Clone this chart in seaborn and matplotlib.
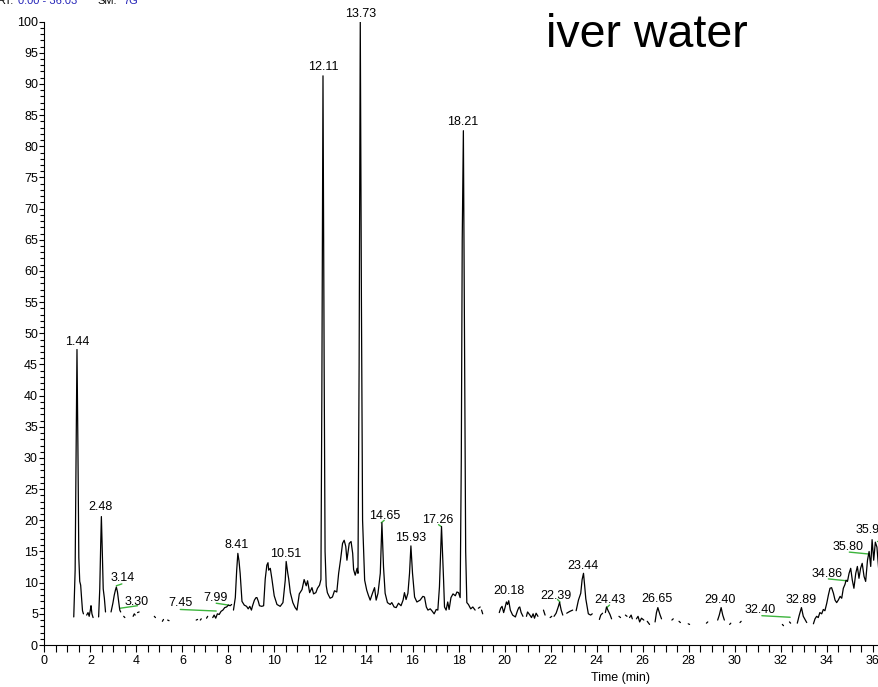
import numpy as np
import pandas as pd
import matplotlib
matplotlib.use("Agg")
import matplotlib.pyplot as plt
from matplotlib.ticker import MultipleLocator
import seaborn as sns

# chromatogram trace, None = break in the trace
trace_t = [1.28, 1.34, 1.38, 1.42, 1.46, 1.50, 1.54, 1.58, 1.62, 1.66, 1.70, None,
           1.84, 1.90, 1.95, 2.00, 2.03, 2.07, 2.12, None,
           2.36, 2.41, 2.45, 2.48, 2.52, 2.56, 2.61, 2.66, None,
           2.90, 2.98, 3.04, 3.09, 3.13, 3.18, 3.23, 3.28, 3.32, None,
           3.45, 3.50, None, 3.86, 3.91, 3.95, None, 4.05, 4.12, None,
           4.78, 4.83, None, 5.13, 5.18, None, 5.36, 5.42, None,
           6.60, 6.66, None, 6.78, 6.82, None, 7.05, 7.10, None,
           7.32, 7.38, 7.45, 7.52, 7.60, 7.68, 7.76, 7.84, 7.92, 8.00, 8.08, 8.14, None,
           8.22, 8.30, 8.36, 8.41, 8.46, 8.51, 8.59, 8.69, 8.79, 8.86,
           8.93, 9.00, 9.05, 9.13, 9.20, 9.24, 9.30, 9.35, 9.45, 9.53,
           9.60, 9.67, 9.72, 9.75, 9.82, 9.89, 9.99, 10.11, 10.25, 10.37,
           10.47, 10.51, 10.58, 10.62, 10.69, 10.80, 10.90, 10.98, 11.08, 11.20,
           11.29, 11.38, 11.44, 11.53, 11.63, 11.70, 11.80, 11.87, 11.96, 12.02,
           12.06, 12.11, 12.16, 12.20, 12.25, 12.30, 12.35, 12.42, 12.52, 12.61,
           12.71, 12.79, 12.87, 12.96, 13.03, 13.10, 13.15, 13.25, 13.33, 13.40,
           13.44, 13.51, 13.59, 13.63, 13.68, 13.73, 13.78, 13.83, 13.92, 14.01,
           14.08, 14.16, 14.26, 14.35, 14.42, 14.50, 14.60, 14.67, 14.74, 14.81,
           14.91, 15.03, 15.10, 15.20, 15.29, 15.39, 15.50, 15.59, 15.65, 15.72,
           15.80, 15.87, 15.93, 16.00, 16.09, 16.19, 16.33, 16.45, 16.52, 16.60,
           16.67, 16.77, 16.84, 16.94, 17.03, 17.10, 17.17, 17.26, 17.35, 17.39,
           17.46, 17.53, 17.59, 17.67, 17.76, 17.86, 17.93, 18.00, 18.07, 18.12,
           18.16, 18.21, 18.26, 18.31, 18.36, 18.43, 18.53, 18.62, 18.72, None,
           18.86, 18.94, None, 19.00, 19.05, None,
           19.77, 19.83, 19.89, 19.96, 20.02, 20.08, 20.13, 20.18, 20.25, 20.35,
           20.47, 20.57, 20.62, 20.66, 20.72, 20.80, None,
           20.95, 21.00, 21.10, 21.17, 21.24, 21.30, 21.37, 21.45, None,
           21.69, 21.76, None, 21.98, 22.05, None,
           22.15, 22.24, 22.34, 22.39, 22.46, 22.53, None,
           22.70, 22.84, 22.96, None,
           23.11, 23.21, 23.31, 23.37, 23.43, 23.48, 23.53, 23.64, 23.74, 23.81, None,
           24.12, 24.18, 24.26, None,
           24.38, 24.43, 24.50, 24.58, 24.65, None,
           24.97, 25.04, None, 25.25, 25.32, None, 25.43, 25.50, 25.55, None,
           25.73, 25.80, 25.87, 25.95, 26.05, None, 26.20, 26.30, None,
           26.54, 26.60, 26.66, 26.75, 26.82, None,
           27.27, 27.33, None, 27.58, 27.64, None, 27.98, 28.04, None, 28.77, 28.83, None,
           29.26, 29.33, 29.41, 29.48, 29.55, None,
           29.78, 29.83, None, 30.23, 30.28, None, 32.07, 32.12, None, 32.38, 32.43, None,
           32.72, 32.80, 32.90, 32.98, 33.07, 33.13, None,
           33.42, 33.49, 33.56, 33.63, 33.70, 33.78, 33.85, 33.92, 34.00, 34.07,
           34.14, 34.21, 34.29, 34.36, 34.43, 34.50, 34.58, 34.65, 34.72, 34.79,
           34.84, 34.90, 34.97, 35.04, 35.11, 35.18, 35.26, 35.33, 35.40, 35.47,
           35.54, 35.62, 35.69, 35.77, 35.84, 35.91, 35.97, 36.04, 36.11, 36.18,
           36.26, 36.32]

trace_y = [4.5, 12, 30, 47.4, 32, 14, 10.2, 9.6, 7.5, 5.5, 5.0, None,
           4.8, 5.2, 4.6, 5.6, 6.3, 5.0, 4.4, None,
           4.5, 9, 16, 20.6, 15, 9, 7.5, 5.3, None,
           5.3, 6.7, 8.0, 8.8, 9.3, 8.5, 7.0, 5.6, 5.3, None,
           4.6, 4.4, None, 4.6, 5.0, 4.8, None, 5.2, 5.3, None,
           4.6, 4.4, None, 3.8, 4.1, None, 4.0, 3.9, None,
           4.0, 4.1, None, 4.0, 4.2, None, 4.3, 4.6, None,
           4.4, 4.8, 4.3, 5.0, 4.9, 5.4, 5.6, 6.0, 6.1, 6.4, 6.3, 6.5, None,
           5.6, 7.6, 12, 14.7, 13.5, 11.5, 7.0, 6.4, 6.2, 5.8,
           6.2, 5.6, 6.3, 7.2, 7.6, 7.6, 7.0, 6.3, 6.2, 6.3,
           10.6, 12.8, 13.2, 12.0, 12.3, 10.6, 7.9, 6.5, 6.2, 6.8,
           10.4, 13.4, 11.5, 10.6, 8.4, 6.8, 6.0, 5.6, 8.2, 8.9,
           10.5, 9.5, 10.3, 8.4, 9.2, 8.2, 8.4, 9.1, 9.6, 10.5,
           40, 91.3, 45, 15, 9.5, 8.4, 8.0, 7.5, 7.7, 8.7,
           8.5, 11.5, 13.6, 16.3, 16.8, 15.8, 13.6, 16.3, 16.6, 14.7,
           12.1, 11.2, 12.3, 11.5, 45, 100, 55, 20, 10.4, 8.8,
           8.0, 7.2, 8.3, 9.2, 7.2, 8.3, 11.5, 19.6, 12.5, 8.3,
           6.8, 6.5, 6.8, 6.1, 6.0, 6.7, 6.3, 7.2, 8.4, 7.3,
           8.3, 11.5, 15.9, 11.5, 7.7, 6.9, 7.2, 7.8, 7.7, 6.1,
           5.6, 5.8, 5.5, 5.0, 5.7, 5.6, 9.3, 19.0, 10.4, 6.1,
           5.6, 6.9, 5.7, 7.6, 8.2, 7.9, 8.5, 8.4, 7.6, 30,
           65, 82.5, 50, 15, 6.8, 6.5, 5.8, 6.1, 5.6, None,
           5.9, 6.1, None, 5.6, 5.0, None,
           5.2, 5.9, 6.2, 5.2, 6.0, 6.9, 6.5, 7.1, 5.6, 4.8,
           4.5, 5.6, 6.0, 6.1, 5.2, 4.6, None,
           4.6, 5.3, 4.8, 4.4, 5.0, 4.3, 5.1, 4.6, None,
           5.6, 4.8, None, 4.4, 4.6, None,
           4.6, 5.1, 6.2, 6.85, 5.6, 4.8, None,
           5.1, 5.4, 5.6, None,
           5.5, 7.2, 8.3, 10.5, 11.5, 9.5, 7.4, 5.0, 4.8, 5.0, None,
           4.1, 4.8, 5.1, None,
           5.2, 6.1, 5.5, 4.9, 4.2, None,
           4.6, 4.4, None, 4.8, 4.6, None, 4.4, 4.8, 4.2, None,
           4.2, 4.6, 3.7, 4.3, 4.0, None, 3.8, 3.3, None,
           3.7, 5.2, 6.0, 4.9, 4.2, None,
           4.0, 4.2, None, 3.8, 3.6, None, 3.4, 3.3, None, 3.5, 3.7, None,
           4.0, 4.8, 6.0, 4.8, 4.0, None,
           3.3, 3.5, None, 3.6, 3.8, None, 3.3, 3.1, None, 3.7, 3.5, None,
           3.5, 4.7, 6.0, 4.6, 4.0, 3.6, None,
           3.4, 4.2, 4.6, 4.4, 5.2, 5.0, 5.7, 5.5, 6.7, 8.0,
           9.1, 9.2, 8.3, 7.2, 6.8, 7.2, 7.8, 7.5, 9.1, 9.7,
           10.4, 10.2, 11.5, 12.3, 10.4, 9.1, 11.5, 12.6, 10.7, 12.3,
           13.1, 11.0, 10.2, 13.6, 15.0, 12.6, 16.9, 13.6, 16.5, 15.7,
           12.0, 13.0]

# peak labels (text, anchor time, anchor intensity)
peak_names = ["1.44", "2.48", "3.14", "3.30", "7.45", "7.99", "8.41", "10.51",
              "12.11", "13.73", "14.65", "15.93", "17.26", "18.21", "20.18",
              "22.39", "23.44", "24.43", "26.65", "29.40", "32.40", "32.89",
              "34.86", "35.80"]
label_t = [1.42, 2.46, 3.42, 4.03, 5.91, 7.43, 8.37, 10.47, 12.13, 13.73, 14.77,
           15.93, 17.09, 18.19, 20.17, 22.24, 23.40, 24.56, 26.62, 29.37, 31.10,
           32.87, 34.00, 34.94]
label_y = [48.65, 22.09, 10.70, 6.95, 6.69, 7.49, 16.04, 14.55, 92.77, 101.2,
           20.69, 17.21, 20.05, 83.94, 8.66, 7.86, 12.67, 7.22, 7.38, 7.22, 5.61,
           7.22, 11.39, 15.77]

# green integration baselines
base_t0 = [3.13, 3.30, 5.91, 7.47, 14.64, 17.13, 22.30, 24.44, 31.18, 34.07, 34.98, 36.17]
base_y0 = [9.5, 5.9, 5.7, 6.7, 19.6, 19.3, 7.3, 6.0, 4.7, 10.6, 14.9, 16.7]
base_t1 = [3.37, 4.05, 7.47, 8.01, 14.77, 17.25, 22.41, 24.56, 32.41, 34.87, 35.81, 36.35]
base_y1 = [9.8, 6.3, 5.45, 6.4, 20.0, 19.0, 6.9, 6.4, 4.45, 10.3, 14.6, 16.7]

assert len(trace_t) == len(trace_y)

sns.set_style("ticks")
plt.rcParams["font.family"] = ["Liberation Sans", "DejaVu Sans"]
plt.rcParams["text.color"] = "black"
plt.rcParams["axes.labelcolor"] = "black"
plt.rcParams["xtick.color"] = "black"
plt.rcParams["ytick.color"] = "black"

trace = pd.DataFrame({"t": trace_t, "y": trace_y}, dtype=float)
trace["seg"] = trace["t"].isna().cumsum()
trace = trace.dropna()

bases = pd.DataFrame({
    "t": base_t0 + base_t1,
    "y": base_y0 + base_y1,
    "seg": list(range(len(base_t0))) * 2,
}).sort_values(["seg", "t"])

fig = plt.figure(figsize=(8.79, 6.87), dpi=100)
ax = fig.add_axes([44.3 / 879, 1 - 645 / 687, 1 - 44.3 / 879, (645 - 21.6) / 687])

sns.lineplot(data=bases, x="t", y="y", units="seg", estimator=None, sort=False,
             color="#3cb43c", lw=1.0, ax=ax)
sns.lineplot(data=trace, x="t", y="y", units="seg", estimator=None, sort=False,
             color="black", lw=0.9, ax=ax)

for name, tx, ty in zip(peak_names, label_t, label_y):
    ax.text(tx, ty, name, ha="center", va="center", fontsize=9, clip_on=False)
# last label runs off the right edge
ax.text(35.27, 18.45, "35.97", ha="left", va="center", fontsize=9, clip_on=False)

ax.set_xlim(0, 36.27)
ax.set_ylim(0, 100)
ax.xaxis.set_major_locator(MultipleLocator(2))
ax.xaxis.set_minor_locator(MultipleLocator(0.5))
ax.yaxis.set_major_locator(MultipleLocator(5))
ax.yaxis.set_minor_locator(MultipleLocator(1))
ax.tick_params(axis="x", which="both", length=5, width=0.8, labelsize=9, pad=2)
ax.tick_params(axis="y", which="major", length=3.6, width=0.8, labelsize=9, pad=1)
ax.tick_params(axis="y", which="minor", length=2.6, width=0.8)
sns.despine(ax=ax)
for sp in ["left", "bottom"]:
    ax.spines[sp].set_linewidth(0.8)
    ax.spines[sp].set_color("black")
ax.set_ylabel("")
ax.set_xlabel("Time (min)", fontsize=9, va="top")
ax.xaxis.set_label_coords(0.69, -0.043)

# header texts, cut off at the edges like the original
fig.text(-3 / 879, 1 - 4 / 687, "RT:", fontsize=8, va="baseline")
fig.text(18 / 879, 1 - 4 / 687, "0.00 - 36.03", fontsize=8, va="baseline", color="#2424b8")
fig.text(97 / 879, 1 - 4 / 687, "SM:", fontsize=8, va="baseline")
fig.text(123 / 879, 1 - 4 / 687, "7G", fontsize=8, va="baseline", color="#2424b8")
fig.text(546 / 879, 1 - 47 / 687, "iver water", fontsize=33.5, va="baseline")

fig.savefig("out.png", dpi=100)
